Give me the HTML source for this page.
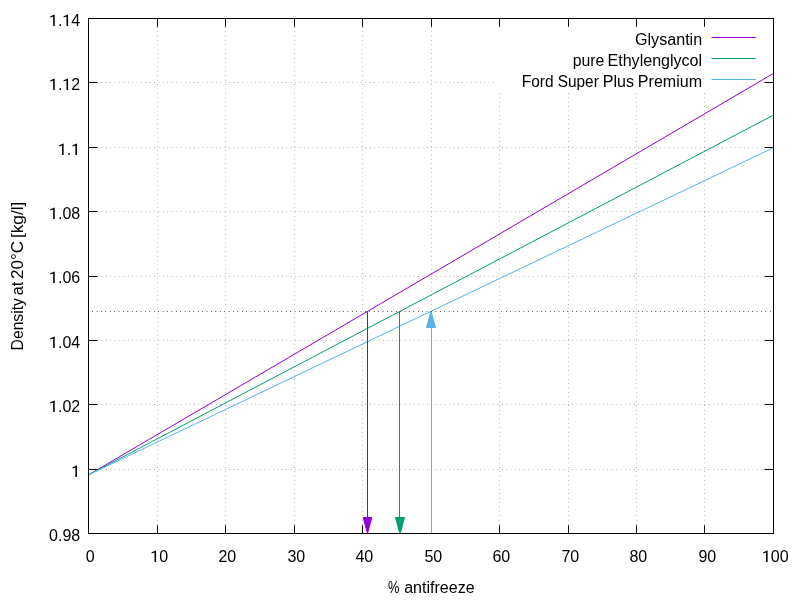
<!DOCTYPE html>
<html><head><meta charset="utf-8"><title>Antifreeze density</title>
<style>html,body{margin:0;padding:0;background:#fff;overflow:hidden;width:800px;height:600px;}svg{display:block;will-change:transform;}text{font-family:"Liberation Sans",sans-serif;font-size:16px;fill:#000;}</style>
</head><body>
<svg width="800" height="600" viewBox="0 0 800 600">
<rect x="0" y="0" width="800" height="600" fill="#fff"/>
<g stroke="#000" stroke-width="0.5" stroke-dasharray="0.55 3.85" fill="none">
<line x1="157.5" y1="18.30" x2="157.5" y2="533.5"/>
<line x1="225.5" y1="18.30" x2="225.5" y2="533.5"/>
<line x1="294.5" y1="18.30" x2="294.5" y2="533.5"/>
<line x1="362.5" y1="18.30" x2="362.5" y2="533.5"/>
<line x1="431.5" y1="18.30" x2="431.5" y2="533.5"/>
<line x1="499.5" y1="18.30" x2="499.5" y2="533.5"/>
<line x1="568.5" y1="18.30" x2="568.5" y2="533.5"/>
<line x1="636.5" y1="18.30" x2="636.5" y2="533.5"/>
<line x1="704.5" y1="18.30" x2="704.5" y2="533.5"/>
<line x1="88.35" y1="82.5" x2="773.5" y2="82.5"/>
<line x1="88.35" y1="147.5" x2="773.5" y2="147.5"/>
<line x1="88.35" y1="211.5" x2="773.5" y2="211.5"/>
<line x1="88.35" y1="276.5" x2="773.5" y2="276.5"/>
<line x1="88.35" y1="340.5" x2="773.5" y2="340.5"/>
<line x1="88.35" y1="404.5" x2="773.5" y2="404.5"/>
<line x1="88.35" y1="469.5" x2="773.5" y2="469.5"/>
</g>
<g stroke="#000" stroke-width="1" fill="none">
<line x1="157.5" y1="533.5" x2="157.5" y2="525.25"/>
<line x1="157.5" y1="18.5" x2="157.5" y2="26.75"/>
<line x1="225.5" y1="533.5" x2="225.5" y2="525.25"/>
<line x1="225.5" y1="18.5" x2="225.5" y2="26.75"/>
<line x1="294.5" y1="533.5" x2="294.5" y2="525.25"/>
<line x1="294.5" y1="18.5" x2="294.5" y2="26.75"/>
<line x1="362.5" y1="533.5" x2="362.5" y2="525.25"/>
<line x1="362.5" y1="18.5" x2="362.5" y2="26.75"/>
<line x1="431.5" y1="533.5" x2="431.5" y2="525.25"/>
<line x1="431.5" y1="18.5" x2="431.5" y2="26.75"/>
<line x1="499.5" y1="533.5" x2="499.5" y2="525.25"/>
<line x1="499.5" y1="18.5" x2="499.5" y2="26.75"/>
<line x1="568.5" y1="533.5" x2="568.5" y2="525.25"/>
<line x1="568.5" y1="18.5" x2="568.5" y2="26.75"/>
<line x1="636.5" y1="533.5" x2="636.5" y2="525.25"/>
<line x1="636.5" y1="18.5" x2="636.5" y2="26.75"/>
<line x1="704.5" y1="533.5" x2="704.5" y2="525.25"/>
<line x1="704.5" y1="18.5" x2="704.5" y2="26.75"/>
<line x1="88.5" y1="82.5" x2="97.5" y2="82.5"/>
<line x1="773.5" y1="82.5" x2="764.5" y2="82.5"/>
<line x1="88.5" y1="147.5" x2="97.5" y2="147.5"/>
<line x1="773.5" y1="147.5" x2="764.5" y2="147.5"/>
<line x1="88.5" y1="211.5" x2="97.5" y2="211.5"/>
<line x1="773.5" y1="211.5" x2="764.5" y2="211.5"/>
<line x1="88.5" y1="276.5" x2="97.5" y2="276.5"/>
<line x1="773.5" y1="276.5" x2="764.5" y2="276.5"/>
<line x1="88.5" y1="340.5" x2="97.5" y2="340.5"/>
<line x1="773.5" y1="340.5" x2="764.5" y2="340.5"/>
<line x1="88.5" y1="404.5" x2="97.5" y2="404.5"/>
<line x1="773.5" y1="404.5" x2="764.5" y2="404.5"/>
<line x1="88.5" y1="469.5" x2="97.5" y2="469.5"/>
<line x1="773.5" y1="469.5" x2="764.5" y2="469.5"/>
</g>
<rect x="495.5" y="27.2" width="268.5" height="64.3" fill="#fff"/>
<path transform="translate(49.02,26.00) scale(0.007812,-0.007812)" d="M729 0H530V1228L170 1096V1264L700 1463H729Z" fill="#000"/>
<text x="57.96" y="26.0">.</text>
<path transform="translate(62.36,26.00) scale(0.007812,-0.007812)" d="M729 0H530V1228L170 1096V1264L700 1463H729Z" fill="#000"/>
<text x="71.30" y="26.0">4</text>
<path transform="translate(49.02,90.00) scale(0.007812,-0.007812)" d="M729 0H530V1228L170 1096V1264L700 1463H729Z" fill="#000"/>
<text x="57.96" y="90.0">.</text>
<path transform="translate(62.36,90.00) scale(0.007812,-0.007812)" d="M729 0H530V1228L170 1096V1264L700 1463H729Z" fill="#000"/>
<text x="71.30" y="90.0">2</text>
<path transform="translate(57.92,155.00) scale(0.007812,-0.007812)" d="M729 0H530V1228L170 1096V1264L700 1463H729Z" fill="#000"/>
<text x="66.86" y="155.0">.</text>
<path transform="translate(71.26,155.00) scale(0.007812,-0.007812)" d="M729 0H530V1228L170 1096V1264L700 1463H729Z" fill="#000"/>
<path transform="translate(49.02,219.00) scale(0.007812,-0.007812)" d="M729 0H530V1228L170 1096V1264L700 1463H729Z" fill="#000"/>
<text x="57.96" y="219.0">.</text>
<text x="62.40" y="219.0">0</text>
<text x="71.30" y="219.0">8</text>
<path transform="translate(49.02,283.00) scale(0.007812,-0.007812)" d="M729 0H530V1228L170 1096V1264L700 1463H729Z" fill="#000"/>
<text x="57.96" y="283.0">.</text>
<text x="62.40" y="283.0">0</text>
<text x="71.30" y="283.0">6</text>
<path transform="translate(49.02,348.00) scale(0.007812,-0.007812)" d="M729 0H530V1228L170 1096V1264L700 1463H729Z" fill="#000"/>
<text x="57.96" y="348.0">.</text>
<text x="62.40" y="348.0">0</text>
<text x="71.30" y="348.0">4</text>
<path transform="translate(49.02,412.00) scale(0.007812,-0.007812)" d="M729 0H530V1228L170 1096V1264L700 1463H729Z" fill="#000"/>
<text x="57.96" y="412.0">.</text>
<text x="62.40" y="412.0">0</text>
<text x="71.30" y="412.0">2</text>
<path transform="translate(71.26,477.00) scale(0.007812,-0.007812)" d="M729 0H530V1228L170 1096V1264L700 1463H729Z" fill="#000"/>
<text x="49.06" y="541.0">0</text>
<text x="57.96" y="541.0">.</text>
<text x="62.40" y="541.0">9</text>
<text x="71.30" y="541.0">8</text>
<text x="85.85" y="562.0">0</text>
<path transform="translate(150.36,562.00) scale(0.007812,-0.007812)" d="M729 0H530V1228L170 1096V1264L700 1463H729Z" fill="#000"/>
<text x="159.30" y="562.0">0</text>
<text x="218.40" y="562.0">2</text>
<text x="227.30" y="562.0">0</text>
<text x="287.40" y="562.0">3</text>
<text x="296.30" y="562.0">0</text>
<text x="355.40" y="562.0">4</text>
<text x="364.30" y="562.0">0</text>
<text x="424.40" y="562.0">5</text>
<text x="433.30" y="562.0">0</text>
<text x="492.40" y="562.0">6</text>
<text x="501.30" y="562.0">0</text>
<text x="561.40" y="562.0">7</text>
<text x="570.30" y="562.0">0</text>
<text x="629.40" y="562.0">8</text>
<text x="638.30" y="562.0">0</text>
<text x="698.40" y="562.0">9</text>
<text x="707.30" y="562.0">0</text>
<path transform="translate(761.91,562.00) scale(0.007812,-0.007812)" d="M729 0H530V1228L170 1096V1264L700 1463H729Z" fill="#000"/>
<text x="770.85" y="562.0">0</text>
<text x="779.75" y="562.0">0</text>
<text x="388.10" y="592.5" textLength="11.47" lengthAdjust="spacingAndGlyphs">%</text>
<text x="404.20" y="592.5" textLength="70.37" lengthAdjust="spacingAndGlyphs">antifreeze</text>
<g transform="translate(23,0) rotate(-90)">
<text x="-350.47" y="0" textLength="52.43" lengthAdjust="spacingAndGlyphs">Density</text>
<text x="-295.15" y="0" textLength="13.40" lengthAdjust="spacingAndGlyphs">at</text>
<text x="-278.95" y="0" textLength="38.06" lengthAdjust="spacingAndGlyphs">20°C</text>
<text x="-238.10" y="0" textLength="36.48" lengthAdjust="spacingAndGlyphs">[kg/l]</text>
</g>
<text x="634.99" y="45.0" textLength="67.18" lengthAdjust="spacingAndGlyphs">Glysantin</text>
<line x1="711.5" y1="37.5" x2="755.7" y2="37.5" stroke="#9400D3" stroke-width="1"/>
<line x1="88.5" y1="474.9" x2="773.5" y2="73.4" stroke="#9400D3" stroke-width="1"/>
<text x="572.76" y="66.0" textLength="31.60" lengthAdjust="spacingAndGlyphs">pure</text>
<text x="607.52" y="66.0" textLength="94.61" lengthAdjust="spacingAndGlyphs">Ethylenglycol</text>
<line x1="711.5" y1="58.5" x2="755.7" y2="58.5" stroke="#009E73" stroke-width="1"/>
<line x1="88.5" y1="474.9" x2="773.5" y2="115.1" stroke="#009E73" stroke-width="1"/>
<text x="521.77" y="87.0" textLength="31.71" lengthAdjust="spacingAndGlyphs">Ford</text>
<text x="557.78" y="87.0" textLength="41.03" lengthAdjust="spacingAndGlyphs">Super</text>
<text x="602.82" y="87.0" textLength="31.21" lengthAdjust="spacingAndGlyphs">Plus</text>
<text x="637.82" y="87.0" textLength="64.29" lengthAdjust="spacingAndGlyphs">Premium</text>
<line x1="711.5" y1="79.5" x2="755.7" y2="79.5" stroke="#56B4E9" stroke-width="1"/>
<line x1="88.5" y1="474.9" x2="773.5" y2="147.7" stroke="#56B4E9" stroke-width="1"/>
<line x1="367.5" y1="311.5" x2="367.5" y2="517.5" stroke="#9400D3" stroke-width="1"/>
<polygon points="367.5,533.5 363.2,517.5 371.8,517.5" fill="#9400D3" stroke="#9400D3" stroke-width="1" stroke-linejoin="miter" stroke-miterlimit="10"/>
<line x1="399.5" y1="311.5" x2="399.5" y2="517.5" stroke="#009E73" stroke-width="1"/>
<polygon points="400.0,534.3 395.5,517.5 404.5,517.5" fill="#009E73" stroke="#009E73" stroke-width="1" stroke-linejoin="miter" stroke-miterlimit="10"/>
<line x1="431.5" y1="533.5" x2="431.5" y2="327.5" stroke="#56B4E9" stroke-width="1"/>
<polygon points="431.0,311.5 426.5,327.5 435.5,327.5" fill="#56B4E9" stroke="#56B4E9" stroke-width="1" stroke-linejoin="miter" stroke-miterlimit="10"/>
<line x1="87.97" y1="311.5" x2="773.5" y2="311.5" stroke="#000" stroke-width="1" stroke-dasharray="0.6 3.8"/>
<rect x="88.5" y="18.5" width="685.0" height="515.0" fill="none" stroke="#000" stroke-width="1"/>
</svg>
</body></html>
